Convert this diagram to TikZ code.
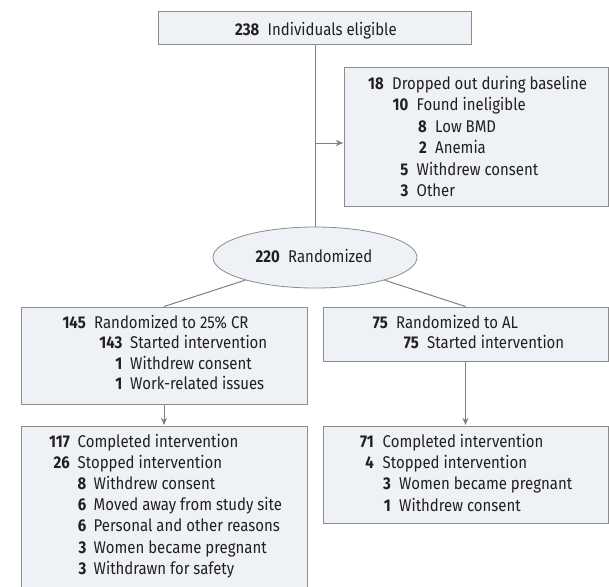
\documentclass[tikz,border=0pt]{standalone}
\usepackage{fontspec}
\setmainfont{Fira Sans}[FakeStretch=0.88]
\usetikzlibrary{arrows.meta,shapes.geometric}
\definecolor{boxfill}{RGB}{238,241,245}
\definecolor{boxdraw}{RGB}{140,140,140}
\definecolor{linec}{RGB}{128,128,128}
\definecolor{txtc}{RGB}{35,31,32}
\tikzset{
  box/.style={draw=boxdraw, fill=boxfill, line width=1pt, rectangle, inner sep=0pt},
  ell/.style={draw=boxdraw, fill=boxfill, line width=0.8pt, ellipse, inner sep=0pt},
  txt/.style={inner sep=0pt, text=txtc, font=\fontsize{17}{20}\selectfont},
  conn/.style={draw=linec, line width=1pt},
  arr/.style={conn, -{Stealth[length=7pt,width=6pt,inset=2pt]}, shorten >=0.5pt}
}
\newcommand\ent[6]{%
  \node[txt, anchor=base east] (#1n) at (#2,#4) {\bfseries #5};
  \node[txt, anchor=base west] (#1t) at (#3,#4) {#6};}
\begin{document}
\begin{tikzpicture}[x=1pt,y=-1pt]
\clip (0,0) rectangle (609,586);
\fill[white] (0,0) rectangle (609,586);
% boxes
\node[box, minimum width=313pt, minimum height=33pt] (top) at (315,28.5) {};
\node[box, minimum width=264pt, minimum height=139pt] (drop) at (476,136.5) {};
\node[ell, minimum width=204pt, minimum height=61pt] (rand) at (315,257.5) {};
\node[box, minimum width=286pt, minimum height=97pt] (cr) at (164,355.5) {};
\node[box, minimum width=285pt, minimum height=54pt] (al) at (465.5,334) {};
\node[box, minimum width=286pt, minimum height=174pt] (crend) at (164,513) {};
\node[box, minimum width=285pt, minimum height=97pt] (alend) at (465.5,474.5) {};
% connectors
\coordinate (junc) at (315,143);
\draw[conn] (top.south) -- (rand.north);
\draw[arr] (junc) -- (drop.west |- junc);
\draw[conn] (rand) -- (cr.north);
\draw[conn] (rand) -- (al.north);
\draw[arr] (cr.south) -- (crend.north);
\draw[arr] (al.south) -- (alend.north);
% texts
\ent{a}{259.5}{267.5}{35}{238}{Individuals eligible}
\ent{d1}{384}{392}{89}{18}{Dropped out during baseline}
\ent{d2}{408.5}{416.5}{110.5}{10}{Found ineligible}
\ent{d3}{427}{435}{132}{8}{Low BMD}
\ent{d4}{427}{435}{153.5}{2}{Anemia}
\ent{d5}{408.5}{416.5}{175}{5}{Withdrew consent}
\ent{d6}{408.5}{416.5}{196.5}{3}{Other}
\ent{r}{280}{288}{262}{220}{Randomized}
\ent{c1}{86}{94}{328}{145}{Randomized to 25\% CR}
\ent{c2}{122.5}{130}{348.5}{143}{Started intervention}
\ent{c3}{122.5}{130}{369}{1}{Withdrew consent}
\ent{c4}{122.5}{130}{389.5}{1}{Work-related issues}
\ent{l1}{388}{396}{328}{75}{Randomized to AL}
\ent{l2}{419}{427}{348.5}{75}{Started intervention}
\ent{e1}{70}{77.5}{447}{117}{Completed intervention}
\ent{e2}{70}{77.5}{468}{26}{Stopped intervention}
\ent{e3}{86.5}{93.5}{489.5}{8}{Withdrew consent}
\ent{e4}{86.5}{93.5}{510.5}{6}{Moved away from study site}
\ent{e5}{86.5}{93.5}{531.5}{6}{Personal and other reasons}
\ent{e6}{86.5}{93.5}{553}{3}{Women became pregnant}
\ent{e7}{86.5}{93.5}{574}{3}{Withdrawn for safety}
\ent{f1}{374}{382.5}{447}{71}{Completed intervention}
\ent{f2}{374}{382.5}{468}{4}{Stopped intervention}
\ent{f3}{391}{399}{489.5}{3}{Women became pregnant}
\ent{f4}{391}{399}{511}{1}{Withdrew consent}
\end{tikzpicture}
\end{document}
